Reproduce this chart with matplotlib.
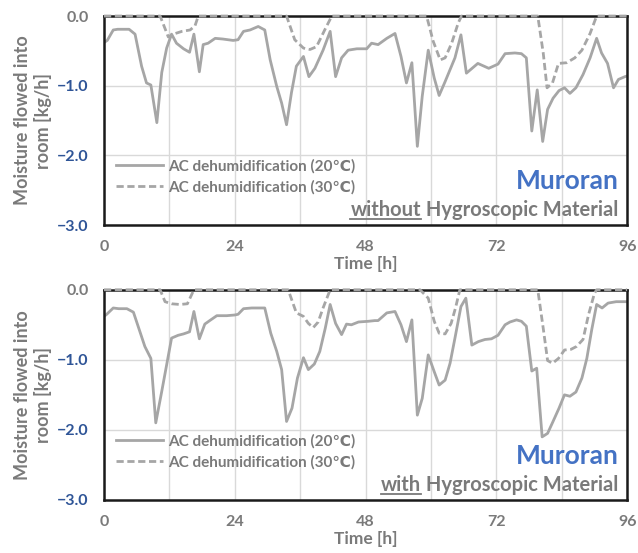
import matplotlib
matplotlib.use('Agg')
import matplotlib.pyplot as plt
from matplotlib.ticker import MultipleLocator
from matplotlib.lines import Line2D

plt.rcParams['font.family'] = ['Lato', 'DejaVu Sans']
plt.rcParams['font.weight'] = 'bold'

# --- data (time [h], moisture [kg/h]) ---
t20_without = [0, 0.6, 1.7, 2.5, 4.6, 5.7, 6.9, 7.8, 8.6, 9.7, 10.6, 11.5, 12.4, 13.3, 14.6, 15.7,
               16.5, 17.5, 18.2, 19.1, 20.4, 21.8, 23.7, 24.6, 25.6, 26.8, 28.3, 29.5, 30.5, 31.7,
               32.6, 33.5, 34.4, 35.3, 36.6, 37.6, 38.7, 40.2, 41.5, 42.5, 43.6, 44.8, 46.4, 48.2,
               49.1, 50.3, 51.9, 53.4, 54.5, 55.5, 56.5, 57.5, 58.4, 59.5, 60.6, 61.5, 62.6, 64.4,
               65.5, 66.5, 68.6, 70.6, 72.3, 73.6, 75.4, 76.6, 77.5, 78.5, 79.5, 80.5, 81.4, 82.4,
               83.5, 84.5, 85.5, 86.6, 87.9, 89.2, 90.4, 91.3, 92.4, 93.5, 94.4, 95.6, 96]
v20_without = [-0.38, -0.35, -0.2, -0.19, -0.19, -0.26, -0.72, -0.96, -0.99, -1.53, -0.81, -0.46,
               -0.26, -0.39, -0.47, -0.52, -0.26, -0.8, -0.41, -0.39, -0.32, -0.33, -0.35, -0.34,
               -0.22, -0.2, -0.15, -0.2, -0.63, -1.01, -1.25, -1.56, -1.1, -0.72, -0.58, -0.87,
               -0.75, -0.49, -0.22, -0.87, -0.6, -0.49, -0.47, -0.47, -0.39, -0.41, -0.32, -0.25,
               -0.58, -0.96, -0.67, -1.87, -1.15, -0.49, -0.89, -1.14, -0.94, -0.6, -0.27, -0.82,
               -0.68, -0.75, -0.69, -0.54, -0.53, -0.54, -0.6, -1.65, -1.06, -1.8, -1.34, -1.18,
               -1.07, -1.03, -1.11, -1.03, -0.84, -0.6, -0.32, -0.53, -0.68, -1.03, -0.91, -0.87, -0.86]

t30_without = [0, 10.3, 11.8, 12.7, 14.3, 15.8, 16.7, 17.3, 33.5, 35, 36.6, 37.8, 39, 40.5, 41.8,
               59.2, 60.4, 61.7, 62.6, 63.8, 65, 65.6, 79.6, 80.6, 81.3, 82.3, 83.4, 84.9, 86.4,
               87.7, 89.2, 90.4, 96]
v30_without = [0, 0, -0.3, -0.26, -0.22, -0.2, -0.14, 0, 0, -0.34, -0.46, -0.48, -0.44, -0.2, 0,
               0, -0.36, -0.63, -0.6, -0.39, -0.1, 0, 0, -0.53, -1.03, -0.96, -0.68, -0.67, -0.6,
               -0.49, -0.25, 0, 0]

t20_with = [0, 0.5, 1.7, 2.7, 4.2, 5.4, 6.6, 7.5, 8.6, 9.5, 10.6, 11.5, 12.4, 13.6, 14.6, 15.7,
            16.5, 17.5, 18.5, 19.4, 20.7, 22.5, 24, 24.6, 25.6, 27.1, 29.5, 30.6, 31.7, 32.6,
            33.5, 34.5, 35.5, 36.6, 37.5, 38.6, 39.6, 40.6, 41.5, 42.5, 43.6, 44.5, 45.4, 46.7,
            48.5, 49.7, 50.3, 51.9, 53.4, 54.5, 55.5, 56.5, 57.5, 58.4, 59.5, 60.6, 61.5, 62.6,
            63.5, 64.4, 65.5, 66.4, 67.5, 68.7, 69.9, 71.1, 72.3, 73.6, 74.5, 75.7, 76.6, 77.5,
            78.5, 79.4, 80.4, 81.4, 82.4, 83.5, 84.5, 85.5, 86.6, 87.7, 88.6, 89.5, 90.4, 91.4,
            92.5, 94, 96]
v20_with = [-0.38, -0.35, -0.26, -0.27, -0.27, -0.32, -0.6, -0.81, -0.98, -1.9, -1.45, -1.07,
            -0.69, -0.65, -0.63, -0.6, -0.31, -0.7, -0.49, -0.44, -0.37, -0.37, -0.36, -0.35,
            -0.27, -0.26, -0.26, -0.62, -0.88, -1.14, -1.88, -1.69, -1.26, -0.97, -1.14, -1.06,
            -0.88, -0.55, -0.21, -0.48, -0.64, -0.49, -0.5, -0.46, -0.45, -0.44, -0.44, -0.33,
            -0.31, -0.5, -0.74, -0.43, -1.79, -1.55, -0.93, -1.17, -1.36, -1.29, -1.05, -0.69,
            -0.24, -0.12, -0.79, -0.74, -0.71, -0.7, -0.65, -0.5, -0.46, -0.43, -0.45, -0.52,
            -1.16, -1.12, -2.1, -2.05, -1.88, -1.69, -1.5, -1.52, -1.46, -1.26, -0.98, -0.57,
            -0.21, -0.26, -0.19, -0.17, -0.17]

t30_with = [0, 10.3, 11.2, 12.4, 13.9, 15.3, 16.5, 33.8, 35.3, 36.6, 37.5, 38.4, 39.3, 40.2, 41.5,
            58, 59.5, 60.6, 61.5, 62.6, 63.7, 64.5, 65.3, 79.6, 80.6, 81.4, 82.3, 83.4, 84.5,
            85.7, 86.7, 87.9, 88.9, 90, 90.4, 96]
v30_with = [0, 0, -0.17, -0.2, -0.21, -0.2, 0, 0, -0.33, -0.38, -0.48, -0.54, -0.46, -0.26, 0,
            0, -0.12, -0.45, -0.62, -0.63, -0.48, -0.26, 0, 0, -0.55, -1.01, -1.05, -0.98, -0.86,
            -0.85, -0.81, -0.71, -0.36, -0.05, 0, 0]

x_ticks = [0, 24, 48, 72, 96]
y_ticks = [0.0, -1.0, -2.0, -3.0]
legend_labels = ['AC dehumidification (20\u2103)', 'AC dehumidification (30\u2103)']

LINE = '#a6a6a6'
GRAY = '#7a7a7a'
BLUE = '#2f5597'
TITLE_BLUE = '#4472c4'

fig = plt.figure(figsize=(6.38, 5.53), dpi=100)
ax_top = fig.add_axes([0.163, 0.593, 0.820, 0.378])
ax_bot = fig.add_axes([0.163, 0.096, 0.820, 0.380])


def draw_panel(ax, t20, v20, t30, v30, word):
    ax.plot(t20, v20, color=LINE, lw=2.0, zorder=3)
    ax.plot(t30, v30, color=LINE, lw=2.0, ls=(0, (2.6, 1.3)), zorder=5, clip_on=False)

    ax.set_xlim(0, 96)
    ax.set_ylim(-3.0, 0.0)
    ax.set_xticks(x_ticks)
    ax.xaxis.set_minor_locator(MultipleLocator(12))
    ax.set_yticks(y_ticks)
    ax.set_yticklabels(['%.1f' % v if v == 0 else '\u2212%.1f' % abs(v) for v in y_ticks])
    ax.grid(True, which='both', color='#d9d9d9', lw=1.0, zorder=0)
    ax.set_axisbelow(True)
    ax.tick_params(which='both', length=0)
    ax.tick_params(axis='x', pad=11, labelsize=11.5, labelcolor=GRAY)
    ax.tick_params(axis='y', pad=11, labelsize=11.5)
    for lab, v in zip(ax.get_yticklabels(), y_ticks):
        lab.set_color(GRAY if v == 0 else BLUE)
        lab.set_fontweight('bold')
    for lab in ax.get_xticklabels():
        lab.set_fontweight('bold')
    for s in ax.spines.values():
        s.set_color('#1a1a1a')
        s.set_linewidth(1.8)
        s.set_zorder(4)

    ax.set_ylabel('Moisture flowed into\nroom [kg/h]', fontsize=13, color=GRAY,
                  fontweight='bold', linespacing=1.15)
    ax.yaxis.set_label_coords(-0.1, 0.5)
    ax.set_xlabel('Time [h]', fontsize=12.5, color=GRAY, fontweight='bold')
    ax.xaxis.set_label_coords(0.5, -0.15)

    handles = [Line2D([], [], color=LINE, lw=2.0),
               Line2D([], [], color=LINE, lw=2.0, ls=(0, (2.6, 1.3)))]
    leg = ax.legend(handles, legend_labels, loc='lower left', bbox_to_anchor=(0.022, 0.145),
                    frameon=False, fontsize=11, handlelength=3.1, handletextpad=0.35,
                    labelspacing=0.45, borderpad=0, borderaxespad=0)
    for txt in leg.get_texts():
        txt.set_color(GRAY)
        txt.set_fontweight('bold')

    ax.text(0.983, 0.21, 'Muroran', transform=ax.transAxes, ha='right', va='center',
            fontsize=19, color=TITLE_BLUE, fontweight='bold')
    rest = ax.text(0.983, 0.072, ' Hygroscopic Material', transform=ax.transAxes,
                   ha='right', va='center', fontsize=14.5, color=GRAY, fontweight='bold')
    return rest, word


panels = [draw_panel(ax_top, t20_without, v20_without, t30_without, v30_without, 'without'),
          draw_panel(ax_bot, t20_with, v20_with, t30_with, v30_with, 'with')]

# place the underlined word to the left of the rest of the caption
fig.canvas.draw()
renderer = fig.canvas.get_renderer()
inv = fig.transFigure.inverted()
for rest, word in panels:
    bb = rest.get_window_extent(renderer)
    x0, yc = inv.transform((bb.x0, (bb.y0 + bb.y1) / 2))
    w = fig.text(x0, yc, word, ha='right', va='center', fontsize=14.5, color=GRAY,
                 fontweight='bold')
    wb = w.get_window_extent(renderer)
    ux0, uy = inv.transform((wb.x0, wb.y0 + 1))
    ux1, _ = inv.transform((wb.x1, wb.y0 + 1))
    fig.add_artist(Line2D([ux0, ux1], [uy, uy], color=GRAY, lw=1.3,
                          transform=fig.transFigure))

fig.savefig('out.png', dpi=100)
